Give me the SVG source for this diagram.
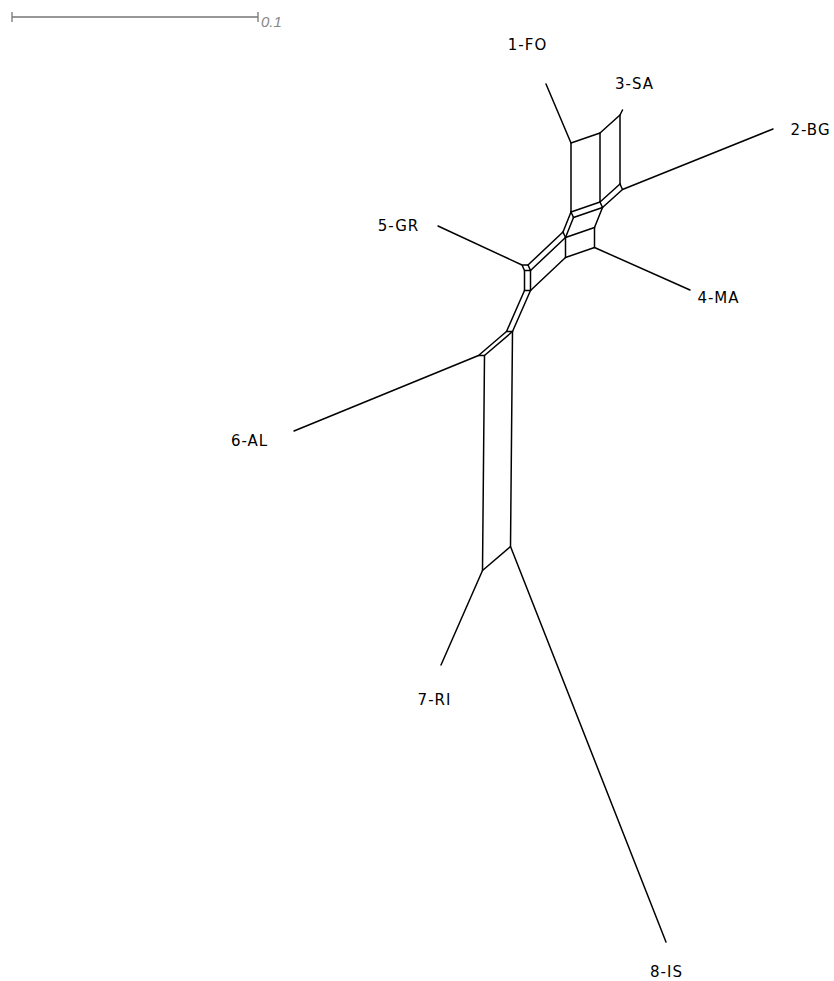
<svg xmlns="http://www.w3.org/2000/svg" width="834" height="981" viewBox="0 0 834 981">
<style>
.e{stroke:#000;stroke-width:1.5;fill:none;stroke-linecap:round;stroke-linejoin:round}
.t{font-family:"DejaVu Sans",sans-serif;font-size:15px;letter-spacing:1px;fill:#000;text-anchor:middle}
.sb{stroke:#777;stroke-width:1.3;fill:none}
.st{font-family:"Liberation Sans",sans-serif;font-style:italic;font-size:15px;fill:#888}
</style>
<rect width="834" height="981" fill="#fff"/>
<g id="scalebar">
<path class="sb" d="M12,17H258M12,12V22M258,12V22"/>
<text class="st" x="261" y="27">0.1</text>
</g>
<g id="connectors">
<path class="e" d="M546,84L571,143L600,133L620,115L622.5,110"/>
<path class="e" d="M571,143V212M600,133V202M620,115V184"/>
<path class="e" d="M571,212L600,202L620,184"/>
<path class="e" d="M571,212L573.5,217.5M600,202L602.5,207.5M620,184L622.5,189.5"/>
<path class="e" d="M573.5,217.5L602.5,207.5L622.5,189.5L773,129"/>
<path class="e" d="M571,212L563,232M573.5,217.5L565.5,237.5M602.5,207.5L594.5,227.5"/>
<path class="e" d="M563,232L565.5,237.5L594.5,227.5"/>
<path class="e" d="M565.5,237.5V257.5M594.5,227.5V247.5"/>
<path class="e" d="M565.5,257.5L594.5,247.5L690,290"/>
<path class="e" d="M563,232L528,265M565.5,237.5L530.5,270.5M565.5,257.5L530.5,290.5"/>
<path class="e" d="M438,226L522,265L528,265L530.5,270.5L524.5,270.5L522,265"/>
<path class="e" d="M524.5,270.5V290.5M530.5,270.5V290.5M524.5,290.5H530.5"/>
<path class="e" d="M524.5,290.5L506.5,331.5M530.5,290.5L512.5,331.5M506.5,331.5H512.5"/>
<path class="e" d="M506.5,331.5L478.5,355.5M512.5,331.5L484.5,355.5M478.5,355.5H484.5"/>
<path class="e" d="M478.5,355.5L294,431"/>
<path class="e" d="M484.5,355.5L482.5,570.5M512.5,331.5L510.5,546.5M482.5,570.5L510.5,546.5"/>
<path class="e" d="M482.5,570.5L441,665M510.5,546.5L666,942"/>
</g>
<g id="n1"><text class="t" x="527.5" y="50">1-FO</text></g>
<g id="n3"><text class="t" x="634.5" y="89">3-SA</text></g>
<g id="n2"><text class="t" x="810.5" y="135">2-BG</text></g>
<g id="n5"><text class="t" x="398.5" y="231">5-GR</text></g>
<g id="n4"><text class="t" x="718.5" y="303">4-MA</text></g>
<g id="n6"><text class="t" x="249.5" y="446">6-AL</text></g>
<g id="n7"><text class="t" x="434.5" y="705">7-RI</text></g>
<g id="n8"><text class="t" x="666.5" y="977">8-IS</text></g>
</svg>
